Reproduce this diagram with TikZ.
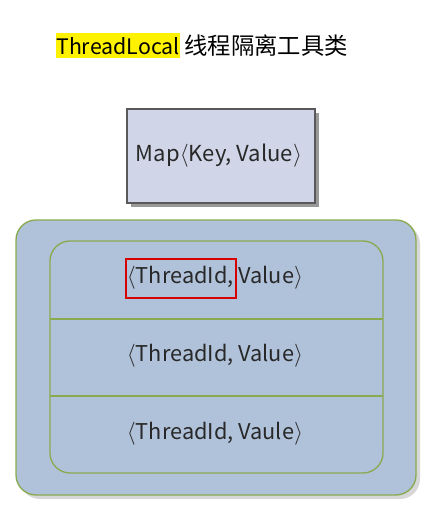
\documentclass[tikz,border=0pt]{standalone}
\usepackage{fontspec}
\setmainfont{Noto Sans CJK SC}
\usetikzlibrary{positioning}
\definecolor{MapFill}{RGB}{208,214,232}
\definecolor{OuterFill}{RGB}{176,193,218}
\definecolor{BorderGreen}{RGB}{138,170,80}
\definecolor{ShadowGray}{RGB}{215,215,215}
\definecolor{TextGray}{RGB}{40,40,40}
\newcommand\PairText[1]{{\color{TextGray}$\langle$#1$\rangle$}}
\tikzset{
    entry/.style={font=\fontsize{16.3}{19}\selectfont, inner sep=0pt},
    roundbox/.style={draw=BorderGreen, line width=1pt, fill=OuterFill, rounded corners=15pt},
}

\begin{document}
\begin{tikzpicture}[x=0.75pt,y=-0.75pt]
    \useasboundingbox (0,0) rectangle (446,519);
    % title
    \node[font=\fontsize{16}{19}\selectfont, inner sep=0pt, anchor=base west] (title) at (56,54)
        {\colorbox{yellow}{\hspace{-3pt}ThreadLocal\hspace{-3pt}} {\fontsize{17.5}{19}\selectfont 线程隔离工具类}};
    % Map box
    \fill[gray!80] (131,113) rectangle (319,207);
    \draw[fill=MapFill, draw=gray!70!black, line width=0.8pt] (127,109) rectangle (315,203);
    \node[entry, font=\fontsize{16.5}{19}\selectfont] (map) at (219,156) {\color{TextGray}Map$\langle$Key, Value$\rangle$};
    % outer container
    \fill[ShadowGray, rounded corners=15pt] (20,224) rectangle (420,499);
    \draw[roundbox] (16,220) rectangle (416,495);
    % inner table
    \draw[roundbox] (50,241) rectangle (383,473);
    \coordinate (RowA) at (50,319);
    \coordinate (RowB) at (50,396);
    \draw[BorderGreen, line width=1pt] (RowA) -- (RowA -| 383,0);
    \draw[BorderGreen, line width=1pt] (RowB) -- (RowB -| 383,0);
    \node[entry] (pairA) at (215,278) {\PairText{ThreadId, Value}};
    \node[entry] (pairB) at (215,356) {\PairText{ThreadId, Value}};
    \node[entry] (pairC) at (215,434) {\PairText{ThreadId, Vaule}};
    % key highlight
    \draw[red!85!black, line width=1.3pt] (126,259) rectangle (236,298);
\end{tikzpicture}
\end{document}
